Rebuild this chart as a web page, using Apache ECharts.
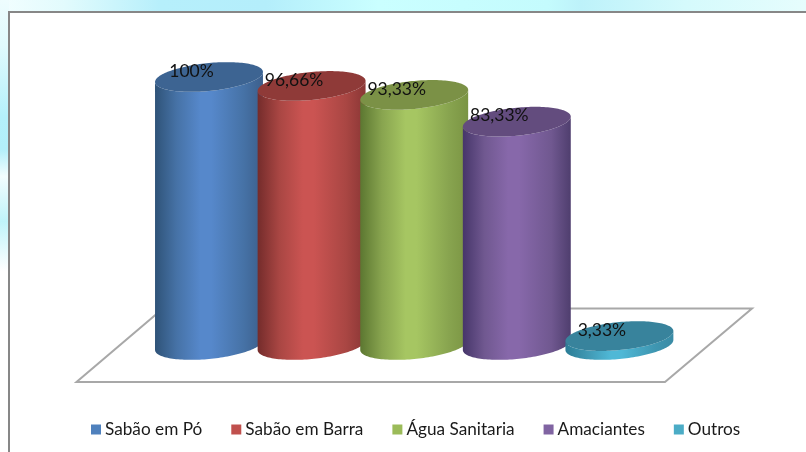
<!DOCTYPE html>
<html>
<head>
<meta charset="utf-8">
<style>
html,body{margin:0;padding:0;background:#fff;}
#chart{width:806px;height:452px;}
</style>
<script src="https://cdn.jsdelivr.net/npm/echarts@6/dist/echarts.min.js"></script>
</head>
<body>
<div id="chart"></div>
<script>
const categories = ['Sabão em Pó', 'Sabão em Barra', 'Água Sanitaria', 'Amaciantes', 'Outros'];
const values = [100, 96.66, 93.33, 83.33, 3.33];
const valueLabels = ['100%', '96,66%', '93,33%', '83,33%', '3,33%'];
const legendColors = ['#4f81bd', '#c0504d', '#9bbb59', '#8064a2', '#4bacc6'];
const sideDark = ['#2f5378', '#742c2b', '#5c7731', '#46366a', '#2b7d96'];
const sideMid = ['#4672a6', '#a94643', '#88a44f', '#705890', '#3f97b2'];
const sideLight = ['#5688cb', '#cb5452', '#a6c662', '#8768aa', '#4fb8d6'];
const sideRight = ['#3c5f8c', '#8a3635', '#7a9443', '#4f3e6e', '#3a8ba5'];
const capColors = ['#3d6492', '#8f3a38', '#7b9146', '#634c7e', '#38839c'];

const RX_RATIO = 1.052, RY = 14, SHEAR = 5, SAMPLES = 72;

function rimPoint(cx, cy, rx, t) {
  return [cx + rx * Math.cos(t), cy - SHEAR * Math.cos(t) + RY * Math.sin(t)];
}

function renderCylinder(params, api) {
  const idx = api.value(0);
  const val = api.value(1);
  const top = api.coord([idx, val]);
  const base = api.coord([idx, 0]);
  const rx = api.size([1, 0])[0] * RX_RATIO / 2;
  const cx = top[0];
  const body = [];
  for (let i = 0; i <= SAMPLES; i++) {
    body.push(rimPoint(cx, base[1], rx, Math.PI - Math.PI * i / SAMPLES));
  }
  for (let i = 0; i <= SAMPLES; i++) {
    body.push(rimPoint(cx, top[1], rx, Math.PI * i / SAMPLES));
  }
  const cap = [];
  for (let i = 0; i < SAMPLES * 2; i++) {
    cap.push(rimPoint(cx, top[1], rx, Math.PI * i / SAMPLES));
  }
  const s = params.seriesIndex;
  return {
    type: 'group',
    children: [
      {
        type: 'polygon',
        shape: { points: body },
        style: {
          fill: new echarts.graphic.LinearGradient(0, 0, 1, 0, [
            { offset: 0, color: sideDark[s] },
            { offset: 0.2, color: sideMid[s] },
            { offset: 0.42, color: sideLight[s] },
            { offset: 0.52, color: sideLight[s] },
            { offset: 0.82, color: sideMid[s] },
            { offset: 1, color: sideRight[s] }
          ])
        }
      },
      { type: 'polygon', shape: { points: cap }, style: { fill: capColors[s] } },
      {
        type: 'text',
        x: cx - 17.5,
        y: top[1] - 6,
        style: {
          text: valueLabels[s],
          font: '17.5px Lato, "Open Sans", sans-serif',
          fill: '#111',
          align: 'center',
          verticalAlign: 'middle'
        }
      }
    ]
  };
}

const chart = echarts.init(document.getElementById('chart'));
chart.setOption({
  animation: false,
  backgroundColor: 'transparent',
  graphic: [
    { type: 'rect', z: -10, shape: { x: 0, y: 0, width: 806, height: 14 },
      style: { fill: new echarts.graphic.LinearGradient(0, 0, 1, 0, [
        { offset: 0, color: '#f2feff' }, { offset: 0.08, color: '#e2fbfd' },
        { offset: 0.2, color: '#b6effb' }, { offset: 0.33, color: '#b4eefb' },
        { offset: 0.47, color: '#caffff' }, { offset: 0.68, color: '#c4fbfd' },
        { offset: 0.72, color: '#bdf2fa' }, { offset: 0.85, color: '#d5fafc' },
        { offset: 1, color: '#e6fdfd' }]) } },
    { type: 'rect', z: -10, shape: { x: 0, y: 0, width: 9, height: 452 },
      style: { fill: new echarts.graphic.LinearGradient(0, 0, 0, 1, [
        { offset: 0, color: '#eefdfe' }, { offset: 0.1, color: '#e0fafd' },
        { offset: 0.26, color: '#b4f0fb' }, { offset: 0.33, color: '#b2effa' },
        { offset: 0.39, color: '#f2fdfe' }, { offset: 0.49, color: '#bff3fa' },
        { offset: 0.6, color: '#ffffff' }, { offset: 1, color: '#ffffff' }]) } },
    { type: 'rect', z: -9, shape: { x: 9, y: 12, width: 820, height: 460 },
      style: { fill: '#ffffff', stroke: '#878787', lineWidth: 2 } },
    { type: 'polygon', z: -8, shape: { points: [[76.5, 382], [665, 382], [752, 308.5], [163, 308.5]] },
      style: { fill: '#ffffff', stroke: '#a8a8a8', lineWidth: 2 } }
  ],
  grid: { left: 157.7, width: 513, top: 77, height: 268 },
  xAxis: { type: 'category', data: categories, show: false },
  yAxis: { type: 'value', min: 0, max: 100, show: false },
  legend: {
    left: 86,
    top: 416,
    itemWidth: 10,
    itemHeight: 10,
    itemGap: 29,
    icon: 'rect',
    textStyle: { fontFamily: 'Lato, "Open Sans", sans-serif', fontSize: 17.2, color: '#1a1a1a', padding: [0, 0, 0, -1] },
    data: categories
  },
  series: categories.map((name, i) => ({
    name: name,
    type: 'custom',
    renderItem: renderCylinder,
    itemStyle: { color: legendColors[i] },
    encode: { x: 0, y: 1 },
    clip: false,
    data: [[i, values[i]]]
  }))
});
</script>
</body>
</html>
